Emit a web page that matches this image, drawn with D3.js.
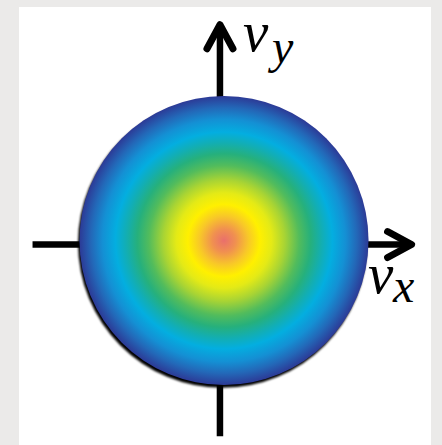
<!DOCTYPE html>
<html>
<head>
<meta charset="utf-8">
<script src="https://cdn.jsdelivr.net/npm/d3@7"></script>
<style>
  html, body { margin: 0; padding: 0; background: #ebeae9; }
  svg { display: block; }
</style>
</head>
<body>
<script>
// ---- data ----
// radial velocity distribution: colour stops along normalised speed |v|/vmax
const speedStops = [0.00, 0.08, 0.17, 0.25, 0.33, 0.42, 0.52, 0.60, 0.68, 0.75, 0.84, 0.92, 1.00];
const stopColors = ["#e96f6c", "#f09050", "#f8c828", "#fff000", "#e4ea16", "#a8d434", "#52bc5c",
                    "#26b07c", "#12aeb4", "#03aee0", "#1490d4", "#2368b8", "#2c3a96"];
// axis extents in units of vmax
const vxAxisRange = [-1.325, 1.305];
const vyAxisRange = [-1.355, 1.5];
const axisOrigin = [-0.028, -0.028];   // [vx, vy] where the axes cross
const axisNames = ["v", "v"];
const axisSubs = ["x", "y"];

// ---- drawing ----
const W = 442, H = 445;
const svg = d3.select("body").append("svg").attr("width", W).attr("height", H);

svg.append("rect").attr("x", 19).attr("y", 7).attr("width", 412).attr("height", 438).attr("fill", "#ffffff");

const x = d3.scaleLinear().domain([-1, 1]).range([79.5, 368.5]);
const y = d3.scaleLinear().domain([-1, 1]).range([385, 96]);

const defs = svg.append("defs");
const grad = defs.append("radialGradient").attr("id", "dist")
  .attr("cx", "50%").attr("cy", "50%").attr("r", "50%");
grad.selectAll("stop").data(speedStops).join("stop")
  .attr("offset", d => d)
  .attr("stop-color", (d, i) => stopColors[i]);

const blur = defs.append("filter").attr("id", "soft")
  .attr("x", "-10%").attr("y", "-10%").attr("width", "120%").attr("height", "120%");
blur.append("feGaussianBlur").attr("stdDeviation", 0.9);

const rpx = x(1) - x(0);

// axes (behind the disc)
const ax = svg.append("g").attr("stroke", "#000").attr("fill", "none")
  .attr("stroke-linecap", "round").attr("stroke-linejoin", "round");

const ox = x(axisOrigin[0]), oy = y(axisOrigin[1]);
// horizontal
ax.append("line").attr("x1", x(vxAxisRange[0])).attr("x2", x(vxAxisRange[1]) - 3)
  .attr("y1", oy).attr("y2", oy).attr("stroke-width", 6.5).attr("stroke-linecap", "butt");
const hx = x(vxAxisRange[1]);
ax.append("path").attr("stroke-width", 7)
  .attr("d", d3.line()([[hx - 25, oy - 13], [hx - 1, oy], [hx - 25, oy + 13]]));
// vertical
ax.append("line").attr("x1", ox).attr("x2", ox)
  .attr("y1", y(vyAxisRange[0])).attr("y2", y(vyAxisRange[1]) + 3)
  .attr("stroke-width", 6.5).attr("stroke-linecap", "butt");
const vyTop = y(vyAxisRange[1]);
ax.append("path").attr("stroke-width", 7)
  .attr("d", d3.line()([[ox - 13, vyTop + 25], [ox, vyTop + 1], [ox + 13, vyTop + 25]]));

// shadow
svg.append("circle")
  .attr("cx", x(0) - 1.5).attr("cy", y(0) + 2.8).attr("r", rpx)
  .attr("fill", "#000").attr("filter", "url(#soft)");
// distribution disc
svg.append("circle")
  .attr("cx", x(0)).attr("cy", y(0)).attr("r", rpx)
  .attr("fill", "url(#dist)");

// labels
const font = "'Liberation Serif', 'DejaVu Serif', serif";
function label(name, sub, px, py, sx, sy) {
  const g = svg.append("g").attr("font-family", font).attr("font-style", "italic").attr("fill", "#000");
  g.append("text").attr("x", px).attr("y", py).attr("font-size", 57).text(name);
  g.append("text").attr("x", sx).attr("y", sy).attr("font-size", 48).text(sub);
}
label(axisNames[1], axisSubs[1], 243, 51, 272, 63);
label(axisNames[0], axisSubs[0], 368, 293, 393, 302);
</script>
</body>
</html>
